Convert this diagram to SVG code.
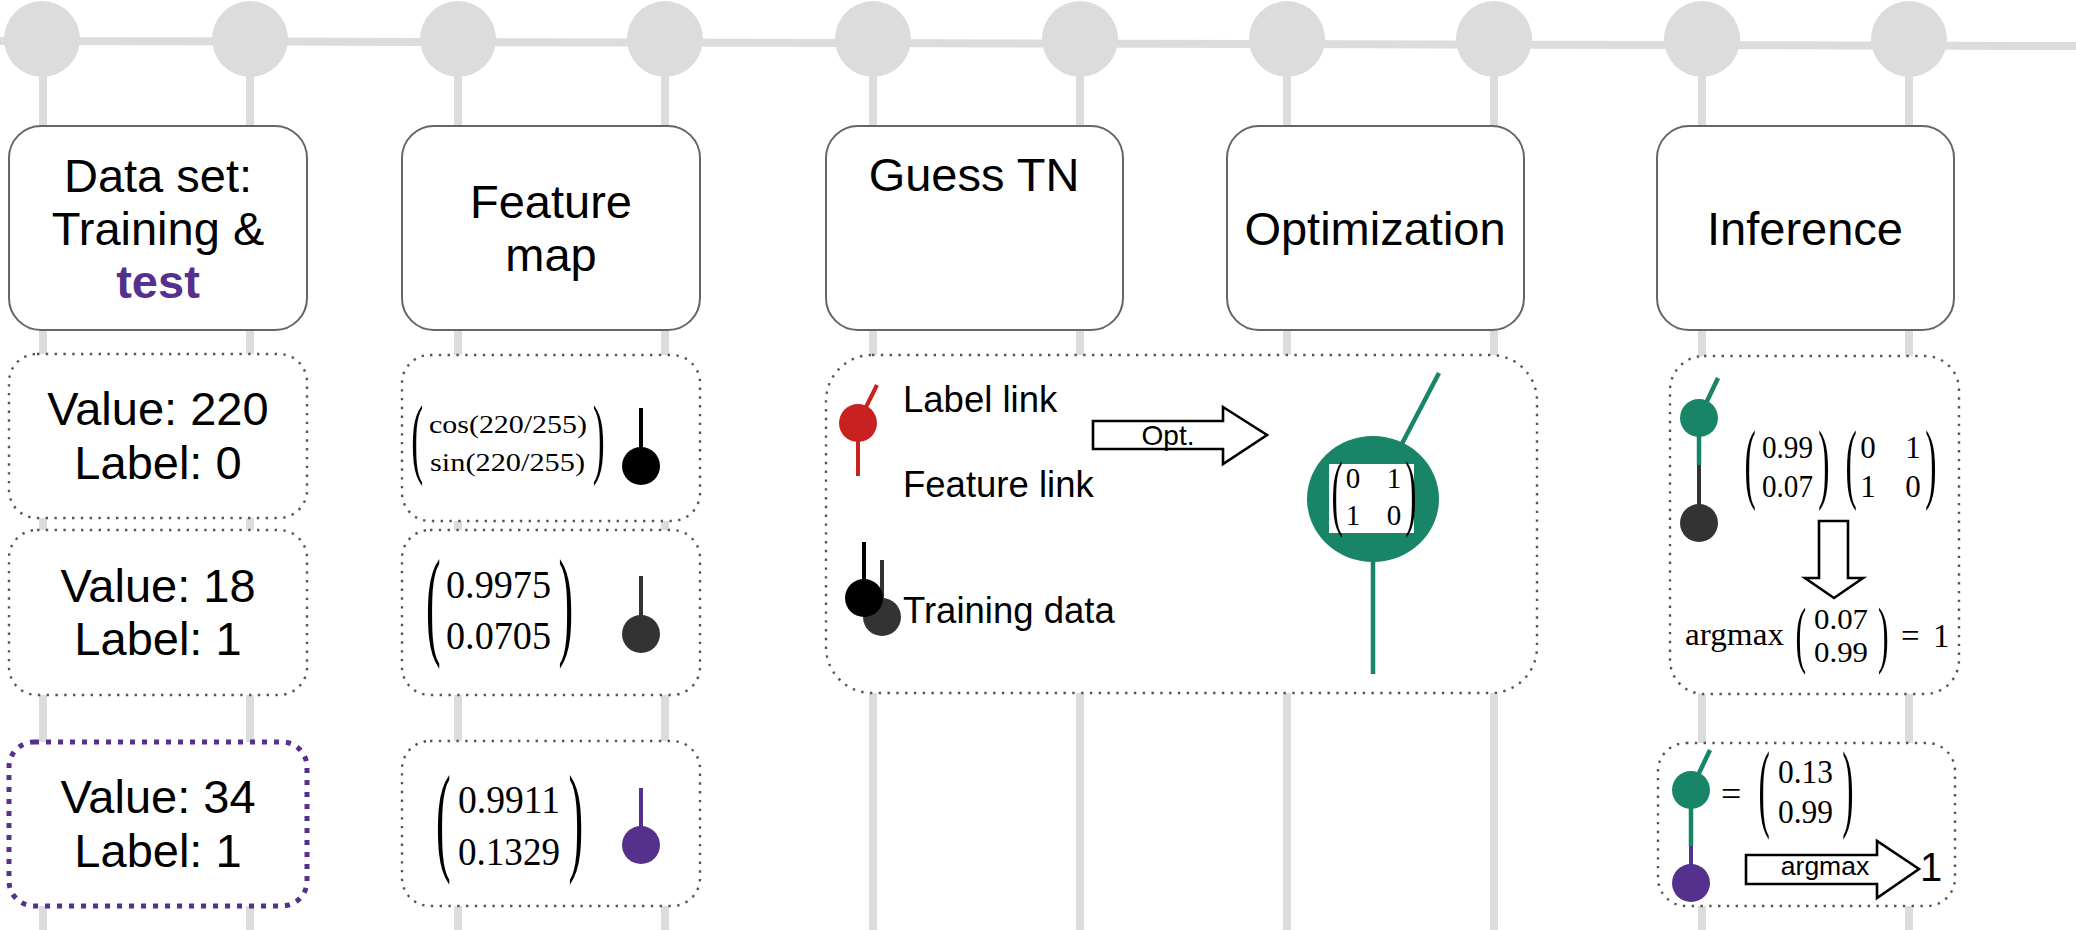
<svg xmlns="http://www.w3.org/2000/svg" width="2076" height="930" viewBox="0 0 2076 930">
  <style>
    .wire { stroke: #dcdcdc; stroke-width: 8; fill: none; }
    .site { fill: #dcdcdc; }
    .head { fill: #ffffff; stroke: #666666; stroke-width: 2; }
    .dot { fill: #ffffff; stroke: #555555; stroke-width: 2.4; stroke-dasharray: 2.4 6.4; }
    .test { fill: #ffffff; stroke: #55308d; stroke-width: 5; stroke-dasharray: 5 7; }
    .sans { font-family: "Liberation Sans", Arial, sans-serif; fill: #000000; }
    .big { font-size: 47px; text-anchor: middle; }
    .mid { font-size: 36.5px; }
    .math { font-family: "Liberation Serif", "Times New Roman", serif; fill: #000000; }
    .blk { fill: #000000; }
    .dk { fill: #333333; }
    .pur { fill: #55308d; }
    .grn { fill: #188568; }
    .red { fill: #c8211f; }
    .lk { stroke: #000000; stroke-width: 4; }
    .lkd { stroke: #333333; stroke-width: 4; }
    .lkp { stroke: #55308d; stroke-width: 4; }
    .lkg { stroke: #188568; stroke-width: 4.5; }
    .lkr { stroke: #c8211f; stroke-width: 4; }
    .arrow { fill: #ffffff; stroke: #000000; stroke-width: 2.6; stroke-linejoin: miter; }
  </style>

  <!-- background tensor-network chain -->
  <g id="connectors">
    <line class="wire" x1="0" y1="41" x2="2076" y2="46"/>
    <line class="wire" x1="43" y1="40" x2="43" y2="930"/>
    <line class="wire" x1="250" y1="40" x2="250" y2="930"/>
    <line class="wire" x1="458" y1="40" x2="458" y2="930"/>
    <line class="wire" x1="665" y1="40" x2="665" y2="930"/>
    <line class="wire" x1="873" y1="40" x2="873" y2="930"/>
    <line class="wire" x1="1080" y1="40" x2="1080" y2="930"/>
    <line class="wire" x1="1287" y1="40" x2="1287" y2="930"/>
    <line class="wire" x1="1494" y1="40" x2="1494" y2="930"/>
    <line class="wire" x1="1702" y1="40" x2="1702" y2="930"/>
    <line class="wire" x1="1909" y1="40" x2="1909" y2="930"/>
  </g>
  <g id="sites">
    <circle class="site" cx="42" cy="39" r="38"/>
    <circle class="site" cx="250" cy="39" r="38"/>
    <circle class="site" cx="458" cy="39" r="38"/>
    <circle class="site" cx="665" cy="39" r="38"/>
    <circle class="site" cx="873" cy="39" r="38"/>
    <circle class="site" cx="1080" cy="39" r="38"/>
    <circle class="site" cx="1287" cy="39" r="38"/>
    <circle class="site" cx="1494" cy="39" r="38"/>
    <circle class="site" cx="1702" cy="39" r="38"/>
    <circle class="site" cx="1909" cy="39" r="38"/>
  </g>

  <!-- stage headers -->
  <g id="hdr-data">
    <rect class="head" x="9" y="126" width="298" height="204" rx="32"/>
    <text class="sans big" x="158" y="192">Data set:</text>
    <text class="sans big" x="158" y="245">Training &amp;</text>
    <text class="sans big" x="158" y="298" style="font-weight:bold;fill:#55308d">test</text>
  </g>
  <g id="hdr-feature">
    <rect class="head" x="402" y="126" width="298" height="204" rx="32"/>
    <text class="sans big" x="551" y="218">Feature</text>
    <text class="sans big" x="551" y="271">map</text>
  </g>
  <g id="hdr-guess">
    <rect class="head" x="826" y="126" width="297" height="204" rx="32"/>
    <text class="sans big" x="974" y="191">Guess TN</text>
  </g>
  <g id="hdr-opt">
    <rect class="head" x="1227" y="126" width="297" height="204" rx="32"/>
    <text class="sans big" x="1375" y="245">Optimization</text>
  </g>
  <g id="hdr-inf">
    <rect class="head" x="1657" y="126" width="297" height="204" rx="32"/>
    <text class="sans big" x="1805" y="245">Inference</text>
  </g>

  <!-- data samples -->
  <g id="sample-220">
    <rect class="dot" x="9" y="354" width="298" height="164" rx="28"/>
    <text class="sans big" x="158" y="425">Value: 220</text>
    <text class="sans big" x="158" y="479">Label: 0</text>
  </g>
  <g id="sample-18">
    <rect class="dot" x="9" y="530" width="298" height="165" rx="28"/>
    <text class="sans big" x="158" y="602">Value: 18</text>
    <text class="sans big" x="158" y="655">Label: 1</text>
  </g>
  <g id="sample-34">
    <rect class="test" x="9" y="742" width="298" height="164" rx="25"/>
    <text class="sans big" x="158" y="813">Value: 34</text>
    <text class="sans big" x="158" y="867">Label: 1</text>
  </g>

  <!-- feature vectors -->
  <g id="feat-220">
    <rect class="dot" x="402" y="355" width="298" height="166" rx="28"/>
    <text class="math" font-size="36" transform="translate(411.3,467.2) scale(1,2.475)">(</text>
    <text class="math" font-size="25" x="429" y="433" textLength="158" lengthAdjust="spacingAndGlyphs">cos(220/255)</text>
    <text class="math" font-size="25" x="430" y="471" textLength="155" lengthAdjust="spacingAndGlyphs">sin(220/255)</text>
    <text class="math" font-size="36" transform="translate(592.7,467.2) scale(1,2.475)">)</text>
    <line class="lk" x1="641" y1="408" x2="641" y2="466"/>
    <circle class="blk" cx="641" cy="466" r="19"/>
  </g>
  <g id="feat-18">
    <rect class="dot" x="402" y="530" width="298" height="165" rx="28"/>
    <text class="math" font-size="44" transform="translate(425.9,642.9) scale(1,2.72)">(</text>
    <text class="math" font-size="40" x="446" y="598" textLength="105" lengthAdjust="spacingAndGlyphs">0.9975</text>
    <text class="math" font-size="40" x="446" y="649" textLength="105" lengthAdjust="spacingAndGlyphs">0.0705</text>
    <text class="math" font-size="44" transform="translate(558.5,642.9) scale(1,2.72)">)</text>
    <line class="lkd" x1="641" y1="576" x2="641" y2="634"/>
    <circle class="dk" cx="641" cy="634" r="19"/>
  </g>
  <g id="feat-34">
    <rect class="dot" x="402" y="741" width="298" height="165" rx="28"/>
    <text class="math" font-size="44" transform="translate(435.9,858.9) scale(1,2.72)">(</text>
    <text class="math" font-size="40" x="458" y="813" textLength="102" lengthAdjust="spacingAndGlyphs">0.9911</text>
    <text class="math" font-size="40" x="458" y="865" textLength="102" lengthAdjust="spacingAndGlyphs">0.1329</text>
    <text class="math" font-size="44" transform="translate(568.5,858.9) scale(1,2.72)">)</text>
    <line class="lkp" x1="641" y1="788" x2="641" y2="845"/>
    <circle class="pur" cx="641" cy="845" r="19"/>
  </g>

  <!-- training: guess and optimisation -->
  <g id="training">
    <rect class="dot" x="826" y="355" width="711" height="338" rx="46"/>
    <!-- label/feature link node -->
    <line class="lkr" x1="858" y1="423" x2="877" y2="385"/>
    <line class="lkr" x1="858" y1="423" x2="858" y2="476"/>
    <circle class="red" cx="858" cy="423" r="19"/>
    <text class="sans mid" x="903" y="412">Label link</text>
    <text class="sans mid" x="903" y="497">Feature link</text>
    <!-- training samples -->
    <line class="lkd" x1="882" y1="560" x2="882" y2="617"/>
    <circle class="dk" cx="882" cy="617" r="19"/>
    <line class="lk" x1="864" y1="542" x2="864" y2="598"/>
    <circle class="blk" cx="864" cy="598" r="19"/>
    <text class="sans mid" x="903" y="623">Training data</text>
    <!-- optimisation step -->
    <polygon class="arrow" points="1093,421 1223,421 1223,407 1267,435 1223,464 1223,449 1093,449"/>
    <text class="sans" font-size="28" x="1168" y="445" text-anchor="middle">Opt.</text>
    <!-- optimised node -->
    <line class="lkg" x1="1373" y1="499" x2="1439" y2="373"/>
    <line class="lkg" x1="1373" y1="499" x2="1373" y2="674"/>
    <ellipse class="grn" cx="1373" cy="499" rx="66" ry="63"/>
    <rect x="1329" y="464" width="85" height="69" fill="#ffffff"/>
    <text class="math" font-size="34" transform="translate(1331.4,520.1) scale(1,2.483)">(</text>
    <text class="math" font-size="29" x="1353" y="488" text-anchor="middle">0</text>
    <text class="math" font-size="29" x="1394" y="488" text-anchor="middle">1</text>
    <text class="math" font-size="29" x="1353" y="525" text-anchor="middle">1</text>
    <text class="math" font-size="29" x="1394" y="525" text-anchor="middle">0</text>
    <text class="math" font-size="34" transform="translate(1405.3,520.1) scale(1,2.483)">)</text>
  </g>

  <!-- inference on a training sample -->
  <g id="infer-train">
    <rect class="dot" x="1670" y="356" width="289" height="338" rx="34"/>
    <line class="lkg" x1="1699" y1="418" x2="1718" y2="378"/>
    <line class="lkg" x1="1699" y1="418" x2="1699" y2="465"/>
    <line class="lkd" x1="1699" y1="465" x2="1699" y2="523"/>
    <circle class="grn" cx="1699" cy="418" r="19"/>
    <circle class="dk" cx="1699" cy="523" r="19"/>
    <text class="math" font-size="34" transform="translate(1744.4,492.2) scale(1,2.621)">(</text>
    <text class="math" font-size="32" x="1762" y="458" textLength="51" lengthAdjust="spacingAndGlyphs">0.99</text>
    <text class="math" font-size="32" x="1762" y="497" textLength="51" lengthAdjust="spacingAndGlyphs">0.07</text>
    <text class="math" font-size="34" transform="translate(1818.3,492.2) scale(1,2.621)">)</text>
    <text class="math" font-size="34" transform="translate(1845.4,492.2) scale(1,2.621)">(</text>
    <text class="math" font-size="31" x="1868" y="458" text-anchor="middle">0</text>
    <text class="math" font-size="31" x="1913" y="458" text-anchor="middle">1</text>
    <text class="math" font-size="31" x="1868" y="497" text-anchor="middle">1</text>
    <text class="math" font-size="31" x="1913" y="497" text-anchor="middle">0</text>
    <text class="math" font-size="34" transform="translate(1925.3,492.2) scale(1,2.621)">)</text>
    <polygon class="arrow" points="1819,521 1848,521 1848,578 1863,578 1834,598 1805,578 1819,578"/>
    <text class="math" font-size="31" x="1685" y="645" textLength="99" lengthAdjust="spacingAndGlyphs">argmax</text>
    <text class="math" font-size="32" transform="translate(1795.5,658.7) scale(1,2.344)">(</text>
    <text class="math" font-size="30" x="1814" y="629" textLength="54" lengthAdjust="spacingAndGlyphs">0.07</text>
    <text class="math" font-size="30" x="1814" y="662" textLength="54" lengthAdjust="spacingAndGlyphs">0.99</text>
    <text class="math" font-size="32" transform="translate(1877.9,658.7) scale(1,2.344)">)</text>
    <text class="math" font-size="33" x="1901" y="647">=</text>
    <text class="math" font-size="33" x="1933" y="647">1</text>
  </g>

  <!-- inference on the test sample -->
  <g id="infer-test">
    <rect class="dot" x="1658" y="743" width="297" height="163" rx="28"/>
    <line class="lkg" x1="1691" y1="790" x2="1710" y2="750"/>
    <line class="lkg" x1="1691" y1="790" x2="1691" y2="846"/>
    <line class="lkp" x1="1691" y1="846" x2="1691" y2="883"/>
    <circle class="grn" cx="1691" cy="790" r="19"/>
    <circle class="pur" cx="1691" cy="883" r="19"/>
    <text class="math" font-size="36" x="1721" y="806">=</text>
    <text class="math" font-size="34" transform="translate(1758.4,818.8) scale(1,2.862)">(</text>
    <text class="math" font-size="34" x="1778" y="783" textLength="55" lengthAdjust="spacingAndGlyphs">0.13</text>
    <text class="math" font-size="34" x="1778" y="823" textLength="55" lengthAdjust="spacingAndGlyphs">0.99</text>
    <text class="math" font-size="34" transform="translate(1842.3,818.8) scale(1,2.862)">)</text>
    <polygon class="arrow" points="1746,855 1877,855 1877,841 1919,869 1877,898 1877,884 1746,884"/>
    <text class="sans" font-size="26.5" x="1825" y="875" text-anchor="middle">argmax</text>
    <text class="sans" font-size="40" x="1920" y="881">1</text>
  </g>
</svg>
